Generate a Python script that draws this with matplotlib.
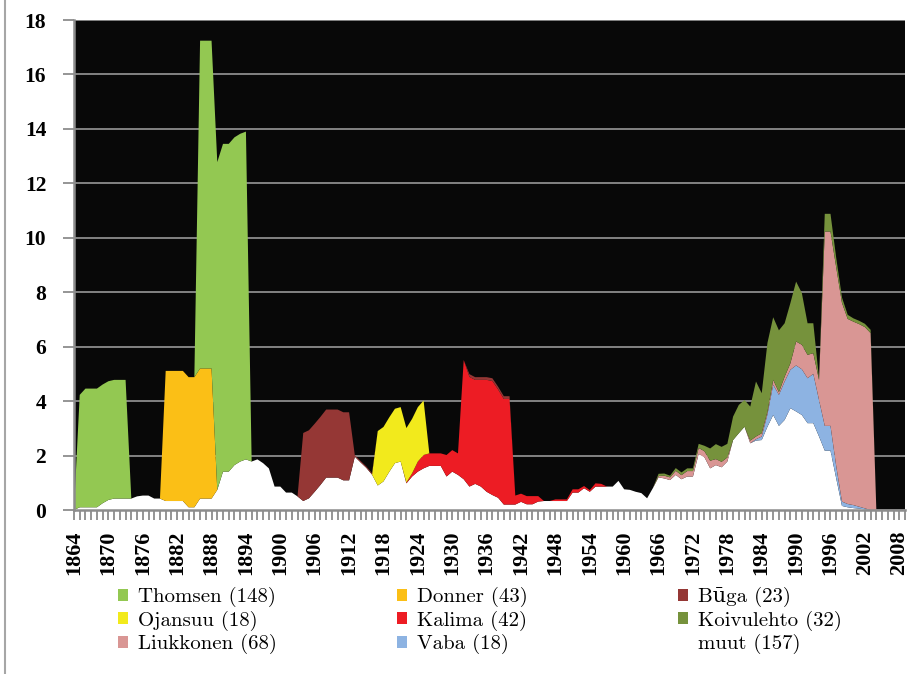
import numpy as np
import matplotlib
matplotlib.use("Agg")
import matplotlib.pyplot as plt
from matplotlib.patches import Patch
from matplotlib.lines import Line2D
from matplotlib.ticker import MultipleLocator
from matplotlib.font_manager import FontProperties

years = np.arange(1864, 2009)

# muut, one value per year 1864-2008
muut = [
    0, 0.1, 0.1, 0.1, 0.1, 0.25, 0.37, 0.42, 0.42, 0.42,
    0.42, 0.5, 0.53, 0.53, 0.42, 0.42, 0.33, 0.33, 0.33, 0.33,
    0.1, 0.1, 0.42, 0.42, 0.42, 0.74, 1.41, 1.41, 1.65, 1.78,
    1.86, 1.78, 1.86, 1.72, 1.53, 0.86, 0.86, 0.64, 0.64, 0.5,
    0.33, 0.43, 0.67, 0.92, 1.19, 1.19, 1.19, 1.09, 1.09, 1.96,
    1.75, 1.55, 1.3, 0.9, 1.05, 1.4, 1.72, 1.78, 0.98, 1.23,
    1.41, 1.53, 1.62, 1.62, 1.62, 1.23, 1.41, 1.29, 1.13, 0.86,
    0.96, 0.86, 0.67, 0.55, 0.45, 0.2, 0.2, 0.2, 0.3, 0.21,
    0.21, 0.31, 0.33, 0.33, 0.33, 0.33, 0.33, 0.64, 0.64, 0.8,
    0.67, 0.86, 0.86, 0.86, 0.86, 1.07, 0.76, 0.74, 0.67, 0.62,
    0.43, 0.8, 1.2, 1.16, 1.1, 1.29, 1.13, 1.23, 1.23, 2.06,
    1.94, 1.53, 1.65, 1.57, 1.78, 2.57, 2.82, 3.06, 2.45, 2.55,
    2.57, 3.06, 3.49, 3.09, 3.31, 3.74, 3.62, 3.49, 3.19, 3.19,
    2.7, 2.18, 2.18, 1.16, 0.15, 0.1, 0.07, 0.05, 0.02, 0,
    0, 0, 0, 0, 0,
]

# the others: (first year, values from that year on)
thomsen = [(1865, [4.13, 4.36, 4.36, 4.36, 4.36, 4.36, 4.36, 4.36, 4.36]),
           (1886, [12.04, 12.04, 12.04, 12.04, 12.04, 12.04, 12.04, 12.04, 12.04])]
donner = [(1880, [4.78, 4.78, 4.78, 4.78, 4.78, 4.78, 4.78, 4.78, 4.78])]
buga = [(1904, [2.5, 2.5, 2.5, 2.5, 2.5, 2.5, 2.5, 2.5, 2.5, 0.05, 0.05, 0.05, 0.05]),
        (1933, [0.1, 0.1, 0.1, 0.1, 0.1, 0.1, 0.1, 0.1])]
ojansuu = [(1917, [2.0, 2.0, 2.0, 2.0, 2.0, 2.0, 2.0, 2.0, 2.0])]
kalima = [(1922, [0.03, 0.12, 0.37, 0.49, 0.46, 0.46, 0.46, 0.79, 0.79, 0.79,
                  4.38, 4.03, 3.82, 3.92, 4.11, 4.19, 3.98, 3.88, 3.88,
                  0.33, 0.3, 0.3, 0.3, 0.2, 0, 0, 0.06, 0.06, 0.06,
                  0.12, 0.12, 0.08, 0.06, 0.12, 0.1])]
koivulehto = [(1966, [0.08, 0.08, 0.06, 0.1, 0.1, 0.1, 0.1, 0.15, 0.2, 0.45,
                      0.55, 0.55, 0.5, 0.86, 1.04, 0.98, 1.25, 2.02, 1.47, 2.53,
                      2.3, 2.27, 1.96, 2.21, 2.2, 1.9, 1.16, 1.1, 0.05, 0.65,
                      0.65, 0.35, 0.2, 0.15, 0.12, 0.12, 0.12, 0.12])]
liukkonen = [(1966, [0.05, 0.1, 0.1, 0.15, 0.15, 0.2, 0.2, 0.22, 0.22, 0.28,
                     0.22, 0.2, 0.15, 0, 0, 0, 0.1, 0.1, 0.12, 0.1,
                     0.18, 0.1, 0.18, 0.24, 0.88, 0.9, 0.86, 0.76, 0.74, 7.14,
                     7.14, 7.3, 7.3, 6.8, 6.74, 6.71, 6.66, 6.5])]
vaba = [(1983, [0.05, 0.13, 0.45, 1.11, 1.14, 1.41, 1.41, 1.69, 1.68, 1.65,
                1.81, 1.34, 0.91, 0.91, 0.45, 0.16, 0.12, 0.11, 0.07, 0.04])]

labels = ["Thomsen (148)", "Donner (43)", "Būga (23)", "Ojansuu (18)", "Kalima (42)",
          "Koivulehto (32)", "Liukkonen (68)", "Vaba (18)", "muut (157)"]
colors = ["#93c852", "#fbbf16", "#953735", "#f2ea1c", "#ed1c24",
          "#76923c", "#d99694", "#8db3e2", "#ffffff"]


def fill(pieces):
    arr = np.zeros(len(years))
    for start, vals in pieces:
        i = start - years[0]
        arr[i:i + len(vals)] = vals
    return arr


series = [fill(p) for p in [thomsen, donner, buga, ojansuu, kalima, koivulehto, liukkonen, vaba]]
series.append(np.array(muut, dtype=float))

plt.rcParams["font.family"] = "Liberation Serif"
W, H = 921, 674
fig = plt.figure(figsize=(W / 100, H / 100), dpi=100)
ax = fig.add_axes([74 / W, 1 - 510 / H, 831 / W, 490 / H])

# bottom of the stack is the last legend entry
ax.stackplot(years, *series[::-1], colors=colors[::-1], linewidth=0)

ax.set_facecolor("#080808")
ax.set_xlim(1864, 2009)
ax.set_ylim(0, 18)
ax.set_axisbelow(True)
ax.yaxis.grid(True, color="#8c8c8c", lw=1.3)
ax.set_yticks(range(0, 19, 2))
ax.set_xticks(range(1864, 2009, 6))
ax.xaxis.set_minor_locator(MultipleLocator(1))
ax.set_xticklabels([str(y) for y in range(1864, 2009, 6)], rotation=90,
                   fontsize=16, fontweight="bold")
ax.set_yticklabels([str(v) for v in range(0, 19, 2)], fontsize=15.5, fontweight="bold")
ax.tick_params(axis="y", length=8, width=1.3, color="#8c8c8c", pad=12)
ax.tick_params(axis="x", which="both", length=7, width=1.3, color="#8c8c8c", pad=8)
for s in ["top", "right"]:
    ax.spines[s].set_visible(False)
for s in ["left", "bottom"]:
    ax.spines[s].set_color("#8c8c8c")
    ax.spines[s].set_linewidth(1.8)

handles = [Patch(facecolor=c, edgecolor="none") for c in colors]
fp = FontProperties(family=["cmr10", "DejaVu Serif"], size=15)
col_x = [118, 397, 678]
for k in range(3):
    idx = [k, k + 3, k + 6]
    fig.legend([handles[i] for i in idx], [labels[i] for i in idx],
               loc="upper left", bbox_to_anchor=(col_x[k] / W, 1 - 587 / H),
               frameon=False, borderpad=0, borderaxespad=0,
               handlelength=0.5, handleheight=0.5, handletextpad=0.45,
               labelspacing=0.16, prop=fp)

fig.add_artist(Line2D([5 / W, 5 / W], [0, 1], color="#a6a6a6", lw=1.5,
                      transform=fig.transFigure))

fig.savefig("out.png", dpi=100, facecolor="white")
